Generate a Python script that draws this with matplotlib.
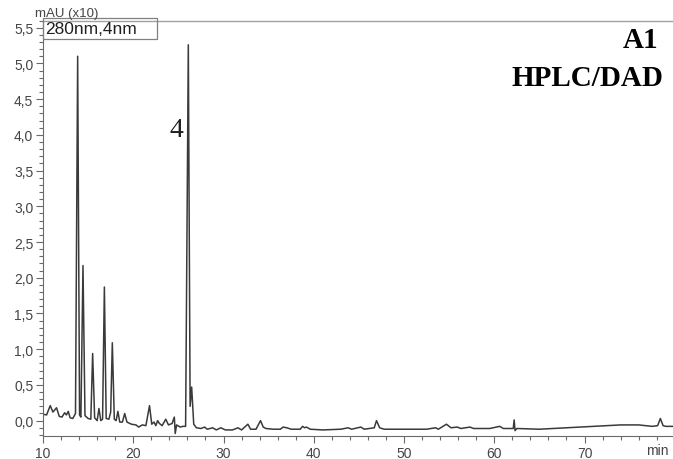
import matplotlib
matplotlib.use("Agg")
import matplotlib.pyplot as plt
from matplotlib.ticker import MultipleLocator, FixedLocator
from matplotlib.patches import Rectangle

# Chromatogram trace (retention time in min, signal in mAU x10)
time_min = [
    10.0, 10.4, 10.8, 11.1, 11.5, 11.8, 12.1, 12.4, 12.6, 12.8, 13.0, 13.3, 13.6,
    13.84, 14.05, 14.2, 14.43, 14.65, 15.0, 15.3, 15.5, 15.72, 16.0, 16.2, 16.4,
    16.6, 16.8, 17.0, 17.3, 17.5, 17.68, 17.9, 18.1, 18.3, 18.5, 18.8, 19.05,
    19.3, 19.8, 20.3, 20.6, 21.0, 21.4, 21.8, 22.05, 22.3, 22.5, 22.7, 22.9,
    23.2, 23.6, 23.9, 24.3, 24.55, 24.65, 24.8, 25.2, 25.5, 25.8, 26.1, 26.3,
    26.47, 26.7, 27.0, 27.5, 27.9, 28.2, 28.8, 29.2, 29.7, 30.2, 31.0, 31.6,
    32.0, 32.7, 33.0, 33.6, 34.1, 34.4, 34.7, 35.5, 36.3, 36.6, 37.0, 37.5,
    38.5, 38.76, 39.0, 39.2, 39.6, 41.0, 43.0, 43.8, 44.2, 45.2, 45.6, 46.7,
    46.95, 47.3, 47.8, 50.0, 52.5, 53.5, 53.8, 54.7, 55.2, 55.9, 56.3, 57.3,
    57.7, 59.5, 60.6, 61.0, 62.1, 62.2, 62.3, 62.5, 65.0, 68.0, 71.0, 74.0,
    76.0, 77.5, 78.1, 78.4, 78.7, 79.0, 79.8,
]
signal = [
    0.09, 0.08, 0.21, 0.12, 0.18, 0.06, 0.05, 0.11, 0.08, 0.13, 0.04, 0.03, 0.10,
    5.10, 0.08, 0.05, 2.17, 0.07, 0.03, 0.02, 0.94, 0.04, 0.00, 0.17, 0.00,
    0.02, 1.87, 0.03, 0.02, 0.12, 1.09, 0.02, 0.00, 0.13, -0.02, -0.02, 0.10,
    -0.02, -0.05, -0.06, -0.09, -0.06, -0.07, 0.21, -0.05, -0.02, -0.07, 0.00, -0.04,
    -0.07, 0.02, -0.06, -0.04, 0.05, -0.18, -0.06, -0.09, -0.08, -0.08, 5.26, 0.20,
    0.47, -0.05, -0.10, -0.11, -0.09, -0.12, -0.10, -0.13, -0.10, -0.13, -0.13, -0.10,
    -0.13, -0.05, -0.12, -0.12, 0.00, -0.09, -0.11, -0.12, -0.12, -0.09, -0.10, -0.12,
    -0.12, -0.08, -0.10, -0.09, -0.12, -0.13, -0.12, -0.10, -0.12, -0.09, -0.12, -0.10,
    0.00, -0.10, -0.12, -0.12, -0.12, -0.10, -0.12, -0.05, -0.10, -0.09, -0.11, -0.09,
    -0.11, -0.11, -0.08, -0.11, -0.11, 0.01, -0.14, -0.11, -0.12, -0.10, -0.08, -0.06,
    -0.06, -0.08, -0.07, 0.03, -0.07, -0.08, -0.08,
]
x_ticks = [10, 20, 30, 40, 50, 60, 70]
x_tick_labels = ["10", "20", "30", "40", "50", "60", "70"]
y_ticks = [0.0, 0.5, 1.0, 1.5, 2.0, 2.5, 3.0, 3.5, 4.0, 4.5, 5.0, 5.5]
y_tick_labels = ["0,0", "0,5", "1,0", "1,5", "2,0", "2,5", "3,0", "3,5", "4,0", "4,5", "5,0", "5,5"]
peak_label = "4"
peak_label_pos = (24.8, 4.07)

plt.rcParams['font.family'] = ['Liberation Sans', 'DejaVu Sans']

fig = plt.figure(figsize=(6.73, 4.60), dpi=100)
ax = fig.add_axes([43/673, 1 - 437/460, 1 - 43/673, (437 - 21.5)/460])

ax.plot(time_min, signal, color='#3a3a3a', lw=1.1)
ax.set_xlim(10, 79.8)
ax.set_ylim(-0.215, 5.60)

ax.xaxis.set_major_locator(FixedLocator(x_ticks))
ax.set_xticklabels(x_tick_labels)
ax.xaxis.set_minor_locator(MultipleLocator(2))
ax.yaxis.set_major_locator(FixedLocator(y_ticks))
ax.set_yticklabels(y_tick_labels)
ax.yaxis.set_minor_locator(MultipleLocator(0.1))

gray = '#6a6a6a'
tick_color = '#454545'
ax.tick_params(which='major', direction='out', length=5, width=0.8, color=gray,
               labelsize=10, labelcolor=tick_color, pad=2)
ax.tick_params(which='minor', direction='out', length=3, width=0.8, color=gray)

ax.spines['right'].set_visible(False)
ax.spines['left'].set_color(gray)
ax.spines['bottom'].set_color(gray)
ax.spines['top'].set_color('#a0a0a0')
ax.spines['top'].set_linewidth(1.0)

ax.annotate("min", xy=(78.1, 0), xycoords=('data', 'axes fraction'),
            xytext=(0, -10.1), textcoords='offset points',
            ha='center', va='center', fontsize=10, color=tick_color)

fig.text(35/673, 1 - 13.5/460, "mAU (x10)", fontsize=9.5, color=tick_color, ha='left', va='center')

fig.patches.append(Rectangle((43/673, 1 - 40/460), (157 - 43)/673, 21/460,
                             transform=fig.transFigure, fill=False, edgecolor='#808080', lw=0.9))
fig.text(45/673, 1 - 30/460, "280nm,4nm", fontsize=12.5, color='#202020', ha='left', va='center')

serif = ['Liberation Serif', 'DejaVu Serif']
fig.text(658/673, 1 - 41/460, "A1", fontsize=21, fontweight='bold', family=serif,
         ha='right', va='center', color='#000000')
fig.text(663/673, 1 - 79/460, "HPLC/DAD", fontsize=21, fontweight='bold', family=serif,
         ha='right', va='center', color='#000000')
ax.text(peak_label_pos[0], peak_label_pos[1], peak_label, fontsize=20, family=serif,
        ha='center', va='center', color='#202020')

fig.savefig("out.png", dpi=100)
